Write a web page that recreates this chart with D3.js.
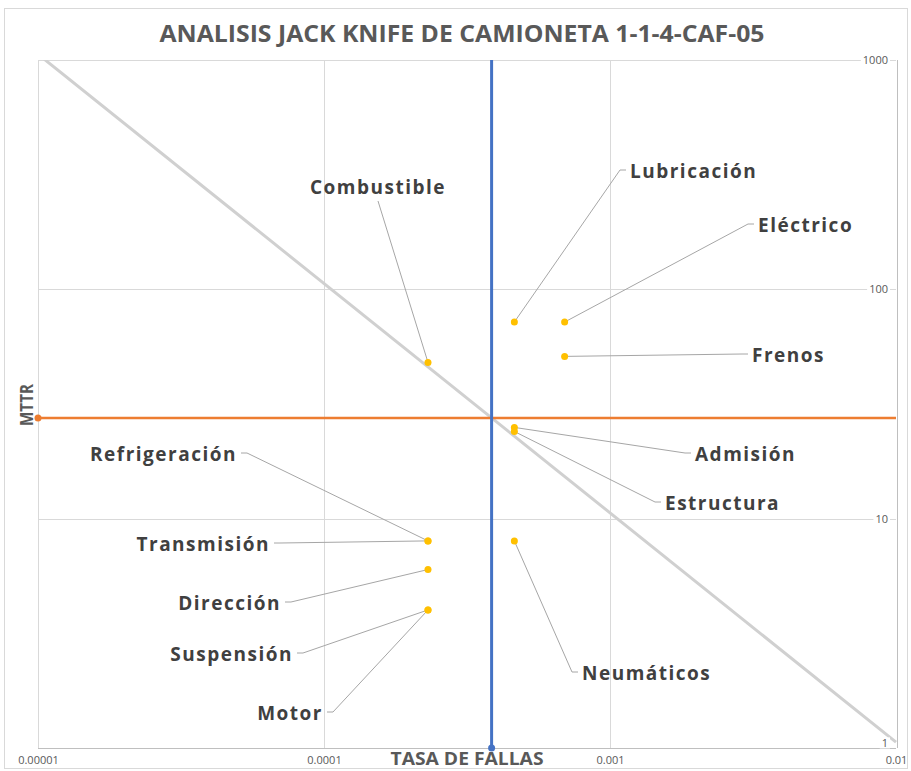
<!DOCTYPE html>
<html>
<head>
<meta charset="utf-8">
<script src="https://cdn.jsdelivr.net/npm/d3@7"></script>
<style>
  html, body { margin: 0; padding: 0; background: #ffffff; }
  svg { display: block; }
</style>
</head>
<body>
<svg id="chart" width="911" height="771"></svg>
<script>
// Componentes de la camioneta, tasa de fallas (fallas/hora) y MTTR (horas)
const componentes = ["Combustible", "Lubricación", "Eléctrico", "Frenos", "Admisión", "Estructura",
  "Refrigeración", "Transmisión", "Dirección", "Suspensión", "Motor", "Neumáticos"];
const tasaFallas = [0.000231, 0.000463, 0.000694, 0.000694, 0.000463, 0.000463,
  0.000231, 0.000231, 0.000231, 0.000231, 0.000231, 0.000463];
const mttr = [48, 72, 72, 51, 25, 24, 8, 8, 6, 4, 4, 8];

// Marcas de los ejes logarítmicos
const xTicks = [0.00001, 0.0001, 0.001, 0.01];
const xTickLabels = ["0.00001", "0.0001", "0.001", "0.01"];
const yTicks = [1, 10, 100, 1000];
const yTickLabels = ["1", "10", "100", "1000"];

// Ubicación de cada etiqueta (px) y lado desde el que sale su línea guía
const labelLayout = [
  { x: 378, y: 187, side: "bottom" },
  { x: 630, y: 171, side: "left" },
  { x: 758, y: 225, side: "left" },
  { x: 752, y: 355, side: "left" },
  { x: 695, y: 454, side: "left" },
  { x: 665, y: 503, side: "left" },
  { x: 237, y: 454, side: "right" },
  { x: 270, y: 544, side: "right" },
  { x: 281, y: 603, side: "right" },
  { x: 293, y: 654, side: "right" },
  { x: 323, y: 713, side: "right" },
  { x: 582, y: 673, side: "left" }
];

const datos = componentes.map((c, i) => ({ nombre: c, tasa: tasaFallas[i], mttr: mttr[i], pos: labelLayout[i] }));

// Promedios que dividen los cuadrantes
const tasaMedia = d3.mean(tasaFallas);
const mttrMedio = d3.mean(mttr);
const indisponibilidad = tasaMedia * mttrMedio;

const svg = d3.select("#chart");
const plot = { left: 38, right: 896, top: 60, bottom: 748 };

const x = d3.scaleLog().domain([0.00001, 0.01]).range([plot.left, plot.right]);
const y = d3.scaleLog().domain([1, 1000]).range([plot.bottom, plot.top]);

// Marco exterior del gráfico
svg.append("rect")
  .attr("x", 4.5).attr("y", 8.5).attr("width", 903).attr("height", 760)
  .attr("fill", "#ffffff").attr("stroke", "#d9d9d9").attr("stroke-width", 1);

// Título
svg.append("text")
  .attr("x", 462).attr("y", 33)
  .attr("text-anchor", "middle").attr("dominant-baseline", "central")
  .attr("font-family", "'Open Sans', sans-serif").attr("font-weight", "bold")
  .attr("font-size", 23).attr("fill", "#595959")
  .attr("textLength", 605).attr("lengthAdjust", "spacingAndGlyphs")
  .text("ANALISIS JACK KNIFE DE CAMIONETA 1-1-4-CAF-05");

// Líneas de cuadrícula
const grid = svg.append("g");
grid.selectAll("line.v").data(xTicks.slice(0, -1)).join("line")
  .attr("x1", d => Math.round(x(d)) + 0.5).attr("x2", d => Math.round(x(d)) + 0.5)
  .attr("y1", plot.top).attr("y2", plot.bottom)
  .attr("stroke", "#d9d9d9").attr("stroke-width", 1);
grid.selectAll("line.h").data(yTicks.slice(1)).join("line")
  .attr("y1", d => Math.round(y(d)) + 0.5).attr("y2", d => Math.round(y(d)) + 0.5)
  .attr("x1", plot.left).attr("x2", plot.right)
  .attr("stroke", "#d9d9d9").attr("stroke-width", 1);

// Ejes: inferior y derecho
svg.append("line")
  .attr("x1", plot.left).attr("x2", plot.right)
  .attr("y1", plot.bottom + 0.5).attr("y2", plot.bottom + 0.5)
  .attr("stroke", "#bfbfbf");
svg.append("line")
  .attr("x1", plot.right + 1.5).attr("x2", plot.right + 1.5)
  .attr("y1", plot.top).attr("y2", plot.bottom)
  .attr("stroke", "#bfbfbf");

// Recorte al área de trazado
svg.append("clipPath").attr("id", "area")
  .append("rect").attr("x", plot.left).attr("y", plot.top)
  .attr("width", plot.right - plot.left + 2).attr("height", plot.bottom - plot.top);

// Línea de indisponibilidad constante (tasa × MTTR)
const diag = [0.00001, 0.01].map(t => ({ t: t, m: indisponibilidad / t }));
svg.append("path")
  .attr("clip-path", "url(#area)")
  .attr("d", d3.line().x(d => x(d.t)).y(d => y(d.m))(diag))
  .attr("fill", "none").attr("stroke", "#d0d0d0").attr("stroke-width", 3);

// Límite de MTTR medio
svg.append("line")
  .attr("x1", x(0.00001)).attr("x2", x(0.01))
  .attr("y1", y(mttrMedio)).attr("y2", y(mttrMedio))
  .attr("stroke", "#ED7D31").attr("stroke-width", 2.5);
svg.append("circle").attr("cx", x(0.00001)).attr("cy", y(mttrMedio)).attr("r", 3.5).attr("fill", "#ED7D31");

// Límite de tasa de fallas media
svg.append("line")
  .attr("x1", x(tasaMedia)).attr("x2", x(tasaMedia))
  .attr("y1", y(1000)).attr("y2", y(1))
  .attr("stroke", "#4472C4").attr("stroke-width", 3);
svg.append("circle").attr("cx", x(tasaMedia)).attr("cy", y(1)).attr("r", 3.5).attr("fill", "#4472C4");

// Etiquetas de componentes
const labels = svg.append("g");
labels.selectAll("text").data(datos).join("text")
  .attr("x", d => d.pos.x).attr("y", d => d.pos.y)
  .attr("dominant-baseline", "central")
  .attr("text-anchor", d => d.pos.side === "bottom" ? "middle" : (d.pos.side === "left" ? "start" : "end"))
  .attr("font-family", "'Open Sans', sans-serif").attr("font-weight", "bold").attr("font-size", 19)
  .attr("letter-spacing", 1.5)
  .attr("fill", "#404040")
  .text(d => d.nombre);

// Líneas guía desde la etiqueta hasta el punto
svg.append("g").selectAll("path").data(datos).join("path")
  .attr("d", d => {
    const px = x(d.tasa), py = y(d.mttr);
    if (d.pos.side === "bottom") {
      return `M${d.pos.x},${d.pos.y + 14}L${px},${py}`;
    }
    const dir = d.pos.side === "left" ? -1 : 1;
    const sx = d.pos.x + dir * 4, ly = d.pos.y - 1;
    return `M${sx},${ly}H${sx + dir * 6}L${px},${py}`;
  })
  .attr("fill", "none").attr("stroke", "#a6a6a6").attr("stroke-width", 1);

// Puntos de los componentes
svg.append("g").selectAll("circle").data(datos).join("circle")
  .attr("cx", d => x(d.tasa)).attr("cy", d => y(d.mttr)).attr("r", 3.5)
  .attr("fill", "#FFC000");

// Marcas del eje X
const xAxis = d3.axisBottom(x).tickValues(xTicks).tickSize(0).tickPadding(8)
  .tickFormat((d, i) => xTickLabels[i]);
const gx = svg.append("g").attr("transform", `translate(0,${plot.bottom})`).call(xAxis);
gx.select(".domain").remove();
gx.selectAll("text").attr("font-family", "'Open Sans', sans-serif").attr("font-size", 11).attr("fill", "#595959");

// Marcas del eje Y, dentro del área de trazado junto al borde derecho
const yAxis = d3.axisLeft(y).tickValues(yTicks).tickSize(0).tickPadding(0)
  .tickFormat((d, i) => yTickLabels[i]);
const gy = svg.append("g").attr("transform", `translate(${plot.right - 8},0)`).call(yAxis);
gy.select(".domain").remove();
gy.selectAll("text")
  .attr("font-family", "'Open Sans', sans-serif").attr("font-size", 11).attr("fill", "#595959");
gy.selectAll(".tick").filter(d => d === 1).select("text").attr("dy", "-0.1em");
// Fondo blanco detrás de cada marca para cortar la cuadrícula
gy.selectAll(".tick").each(function () {
  const t = d3.select(this).select("text");
  const b = t.node().getBBox();
  d3.select(this).insert("rect", "text")
    .attr("x", b.x - 2).attr("y", b.y + 2).attr("width", b.width + 4).attr("height", b.height - 4)
    .attr("fill", "#ffffff");
});

// Títulos de los ejes
svg.append("text")
  .attr("x", 467).attr("y", 758)
  .attr("text-anchor", "middle").attr("dominant-baseline", "central")
  .attr("font-family", "'Open Sans', sans-serif").attr("font-weight", "bold").attr("font-size", 17)
  .attr("fill", "#595959").attr("textLength", 153).attr("lengthAdjust", "spacingAndGlyphs")
  .text("TASA DE FALLAS");
svg.append("text")
  .attr("transform", "translate(26,405) rotate(-90)")
  .attr("text-anchor", "middle").attr("dominant-baseline", "central")
  .attr("font-family", "'Open Sans', sans-serif").attr("font-weight", "bold").attr("font-size", 18)
  .attr("fill", "#595959").attr("textLength", 42).attr("lengthAdjust", "spacingAndGlyphs")
  .text("MTTR");
</script>
</body>
</html>
